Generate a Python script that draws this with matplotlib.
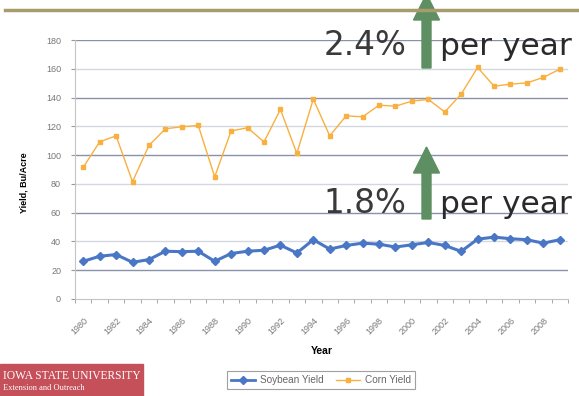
import matplotlib
matplotlib.use("Agg")
import matplotlib.pyplot as plt
from matplotlib.patches import Polygon, Rectangle
from matplotlib.lines import Line2D
from matplotlib.transforms import Affine2D

# US yields, bushels per acre
years = list(range(1980, 2010))
corn = [91.5, 109.2, 113.4, 81.5, 106.7, 118.3, 119.7, 120.6, 84.9, 116.8,
        119.0, 109.2, 131.7, 101.2, 138.9, 113.4, 127.3, 126.6, 134.7, 134.0,
        137.5, 138.7, 130.0, 142.4, 160.9, 147.9, 149.3, 150.2, 154.0, 159.7]
soybean = [26.2, 29.7, 30.9, 25.5, 27.4, 33.2, 32.9, 33.2, 26.2, 31.6,
           33.2, 33.9, 37.4, 32.0, 41.2, 34.7, 37.2, 38.8, 38.1, 36.1,
           37.7, 39.3, 37.2, 33.1, 41.6, 43.0, 41.9, 41.2, 38.8, 41.2]
yticks = list(range(0, 181, 20))
xlabels = [str(y) for y in range(1980, 2009, 2)]
rates = ["2.4%", "1.8%"]

W, H = 579, 396
fig = plt.figure(figsize=(W / 100, H / 100), dpi=100)
plt.rcParams['font.family'] = ['Liberation Sans', 'DejaVu Sans']

# pixel coordinates from top-left corner
pix = Affine2D().scale(1 / W, -1 / H).translate(0, 1) + fig.transFigure

ax = fig.add_axes([75 / W, 1 - 299 / H, 493 / W, 259 / H])
blue = '#4a76c6'
orange = '#f8b040'
ax.plot(years, soybean, color=blue, lw=2.2, marker='D', ms=4, zorder=3,
        label='Soybean Yield')
ax.plot(years, corn, color=orange, lw=1.0, marker='s', ms=3.2, zorder=3,
        label='Corn Yield')

ax.set_xlim(1979.5, 2009.5)
ax.set_ylim(0, 180)
ax.set_yticks(yticks)
ax.set_yticklabels([str(v) for v in yticks], fontsize=6.5, color='#777777')
ax.set_xticks(range(1980, 2009, 2))
ax.set_xticklabels(xlabels, rotation=45, ha='right', rotation_mode='anchor',
                   fontsize=6.5, color='#777777')
ax.set_xticks([y + 0.5 for y in range(1979, 2010)], minor=True)
ax.tick_params(axis='x', which='major', length=0, pad=12)
ax.tick_params(axis='x', which='minor', length=3, color='#999999')
ax.tick_params(axis='y', length=3, color='#999999', pad=7)

ax.yaxis.grid(True, lw=1.0)
for v, gl in zip(yticks, ax.get_ygridlines()):
    gl.set_color('#8a92aa' if v % 40 == 20 else '#d4d7de')
    if v == 0:
        gl.set_visible(False)
for side in ['top', 'right']:
    ax.spines[side].set_visible(False)
ax.spines['left'].set_color('#c4c4c4')
ax.spines['bottom'].set_color('#c4c4c4')

ax.set_ylabel('Yield, Bu/Acre', fontsize=6.5, fontweight='bold', labelpad=16)
ax.yaxis.set_label_coords(-47 / 493, 0.45)
ax.set_xlabel('Year', fontsize=7.5, fontweight='bold', labelpad=7)

# legend box under the axes
handles = [Line2D([], [], color=blue, lw=2, marker='D', ms=4),
           Line2D([], [], color=orange, lw=1, marker='s', ms=3)]
leg = fig.legend(handles, ['Soybean Yield', 'Corn Yield'], ncol=2,
                 loc='center', bbox_to_anchor=(321 / W, 1 - 380 / H),
                 fontsize=7.2, frameon=True, fancybox=False, handlelength=2.4,
                 columnspacing=1.2, handletextpad=0.5, borderpad=0.4)
leg.get_frame().set_edgecolor('#888888')
leg.get_frame().set_linewidth(0.8)
for t in leg.get_texts():
    t.set_color('#666666')

# rule across the top
fig.add_artist(Line2D([5, 579], [10, 10], color='#a89c6c', lw=2.5, transform=pix))


def up_arrow(cx, tip, base, bottom):
    pts = [(cx - 4.5, bottom), (cx - 4.5, base), (cx - 13, base), (cx, tip),
           (cx + 13, base), (cx + 4.5, base), (cx + 4.5, bottom)]
    fig.add_artist(Polygon(pts, closed=True, color='#5e8f63', transform=pix))


up_arrow(426.5, -6, 20, 68)
up_arrow(426.5, 147, 173, 219)

for rate, yb in zip(rates, [55, 213]):
    fig.text(406, yb, rate, transform=pix, ha='right', va='baseline',
             fontsize=23.5, color='#3a3a3a', family='DejaVu Sans')
    fig.text(440, yb, 'per year', transform=pix, ha='left', va='baseline',
             fontsize=22.5, color='#2a2a2a', family='DejaVu Sans')

# university wordmark
fig.add_artist(Rectangle((0, 364), 143, 32, color='#c5505a', transform=pix))
fig.text(3, 379, 'IOWA STATE UNIVERSITY', transform=pix, fontsize=8.3,
         color='white', family='Liberation Serif', va='baseline')
fig.text(3, 390, 'Extension and Outreach', transform=pix, fontsize=6,
         color='white', family='Liberation Serif', va='baseline')

fig.savefig('out.png', dpi=100)
